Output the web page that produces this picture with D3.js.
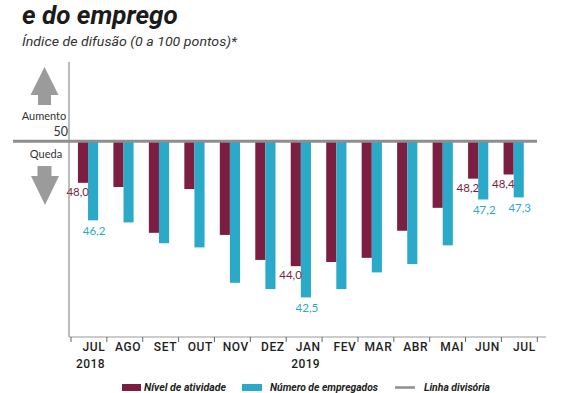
<!DOCTYPE html>
<html>
<head>
<meta charset="utf-8">
<script src="https://cdn.jsdelivr.net/npm/d3@7"></script>
<style>
  body { margin: 0; background: #fff; }
  svg { display: block; }
</style>
</head>
<body>
<svg id="chart" width="570" height="393"></svg>
<script>
// monthly diffusion index
var months = ["JUL", "AGO", "SET", "OUT", "NOV", "DEZ", "JAN", "FEV", "MAR", "ABR", "MAI", "JUN", "JUL"];
var years = ["2018", "", "", "", "", "", "2019", "", "", "", "", "", ""];
var atividade = [48.0, 47.8, 45.6, 47.7, 45.5, 44.3, 44.0, 44.2, 44.4, 45.7, 46.8, 48.2, 48.4];
var empregados = [46.2, 46.1, 45.1, 44.9, 43.2, 42.9, 42.5, 42.9, 43.7, 44.1, 45.0, 47.2, 47.3];
var labeled = [0, 6, 11, 12]; // months with value labels
var divisoria = 50;

var maroon = "#7c1e42", cyan = "#2ba9c8", grey = "#8e8e8e";

var svg = d3.select("#chart");
var idx = months.map((d, i) => i);

var x = d3.scaleBand()
  .domain(idx)
  .range([70.3, 531.4])
  .paddingInner(0.43)
  .paddingOuter(0.215);

// the axis ticks are spaced a bit wider than the bars
var xAxis = d3.scaleBand()
  .domain(idx)
  .range([71, 537.3]);

var y = d3.scaleLinear()
  .domain([40.6, 53.8])
  .range([337, 62]);

var half = x.bandwidth() / 2;

// title
svg.append("text")
  .attr("x", 22).attr("y", 24)
  .style("font", "italic bold 26px Roboto")
  .attr("fill", "#1b1b1b")
  .text("e do emprego");

svg.append("text")
  .attr("x", 22).attr("y", 46)
  .style("font", "italic 13.5px Roboto")
  .attr("fill", "#333")
  .attr("textLength", 215).attr("lengthAdjust", "spacingAndGlyphs")
  .text("Índice de difusão (0 a 100 pontos)*");

// bars
svg.append("g").selectAll("rect")
  .data(atividade)
  .enter().append("rect")
  .attr("x", (d, i) => x(i))
  .attr("y", y(divisoria))
  .attr("width", half)
  .attr("height", d => y(d) - y(divisoria))
  .attr("fill", maroon);

svg.append("g").selectAll("rect")
  .data(empregados)
  .enter().append("rect")
  .attr("x", (d, i) => x(i) + half)
  .attr("y", y(divisoria))
  .attr("width", half)
  .attr("height", d => y(d) - y(divisoria))
  .attr("fill", cyan);

// value labels
var fmt = v => d3.format(".1f")(v).replace(".", ",");

svg.append("g").selectAll("text")
  .data(labeled)
  .enter().append("text")
  .attr("x", i => x(i) + half + 1)
  .attr("y", i => y(atividade[i]) + 13)
  .attr("text-anchor", "end")
  .style("font", "11.5px Lato")
  .attr("fill", maroon)
  .text(i => fmt(atividade[i]));

svg.append("g").selectAll("text")
  .data(labeled)
  .enter().append("text")
  .attr("x", i => x(i) + half * 1.5 + 1)
  .attr("y", i => y(empregados[i]) + 14.5)
  .attr("text-anchor", "middle")
  .style("font", "11.5px Lato")
  .attr("fill", cyan)
  .text(i => fmt(empregados[i]));

// y axis line
svg.append("line")
  .attr("x1", 69).attr("x2", 69)
  .attr("y1", y.range()[1]).attr("y2", y.range()[0])
  .attr("stroke", "#7a7a7a").attr("stroke-width", 1);

// dividing line at 50
svg.append("line")
  .attr("x1", 13).attr("x2", 537)
  .attr("y1", y(divisoria)).attr("y2", y(divisoria))
  .attr("stroke", grey).attr("stroke-width", 3);

svg.append("text")
  .attr("x", 68).attr("y", y(divisoria) - 5)
  .attr("text-anchor", "end")
  .style("font", "12.5px Lato")
  .attr("fill", "#333")
  .text("50");

svg.append("text")
  .attr("x", 44).attr("y", 120)
  .attr("text-anchor", "middle")
  .style("font", "11px Lato")
  .attr("fill", "#333")
  .text("Aumento");

svg.append("text")
  .attr("x", 46).attr("y", 158)
  .attr("text-anchor", "middle")
  .style("font", "11px Lato")
  .attr("fill", "#333")
  .text("Queda");

// arrows
var arrowGrey = "#9b9b9b";
svg.append("path")
  .attr("d", "M44.5,67 L58.5,95 L51,95 L51,105 L38,105 L38,95 L30.5,95 Z")
  .attr("fill", arrowGrey);
svg.append("path")
  .attr("d", "M37.5,166 L51.5,166 L51.5,176 L59,176 L45,205 L31,176 L37.5,176 Z")
  .attr("fill", arrowGrey);

// bottom axis
var axisY = y.range()[0];
svg.append("line")
  .attr("x1", 69).attr("x2", 546)
  .attr("y1", axisY).attr("y2", axisY)
  .attr("stroke", "#999").attr("stroke-width", 1.2);

var tickXs = idx.map(i => xAxis(i)).concat([xAxis.range()[1]]);
svg.append("g").selectAll("line")
  .data(tickXs)
  .enter().append("line")
  .attr("x1", d => d).attr("x2", d => d)
  .attr("y1", axisY).attr("y2", axisY + 5)
  .attr("stroke", "#666").attr("stroke-width", 1);

svg.append("g").selectAll("text")
  .data(months)
  .enter().append("text")
  .attr("x", (d, i) => xAxis(i) + xAxis.bandwidth() - 1.5)
  .attr("y", 351)
  .attr("text-anchor", "end")
  .style("font", "500 12px Roboto")
  .style("letter-spacing", "0.6px")
  .attr("fill", "#1e1e1e")
  .text(d => d);

svg.append("g").selectAll("text")
  .data(years)
  .enter().append("text")
  .attr("x", (d, i) => xAxis(i) + xAxis.bandwidth() - 2)
  .attr("y", 368)
  .attr("text-anchor", "end")
  .style("font", "500 12px Roboto")
  .style("letter-spacing", "0.4px")
  .attr("fill", "#1e1e1e")
  .text(d => d);

// legend
var legend = svg.append("g");
var legFont = "italic bold 11px Roboto";

legend.append("rect").attr("x", 122).attr("y", 384).attr("width", 19).attr("height", 7).attr("fill", maroon);
legend.append("text").attr("x", 144).attr("y", 391)
  .style("font", legFont).attr("fill", "#222")
  .attr("textLength", 82).attr("lengthAdjust", "spacingAndGlyphs")
  .text("Nível de atividade");

legend.append("rect").attr("x", 242).attr("y", 384).attr("width", 20).attr("height", 7).attr("fill", cyan);
legend.append("text").attr("x", 270).attr("y", 391)
  .style("font", legFont).attr("fill", "#222")
  .attr("textLength", 108).attr("lengthAdjust", "spacingAndGlyphs")
  .text("Número de empregados");

legend.append("line").attr("x1", 395).attr("x2", 415).attr("y1", 387.5).attr("y2", 387.5)
  .attr("stroke", grey).attr("stroke-width", 2.5);
legend.append("text").attr("x", 424).attr("y", 391)
  .style("font", legFont).attr("fill", "#222")
  .attr("textLength", 66).attr("lengthAdjust", "spacingAndGlyphs")
  .text("Linha divisória");
</script>
</body>
</html>
